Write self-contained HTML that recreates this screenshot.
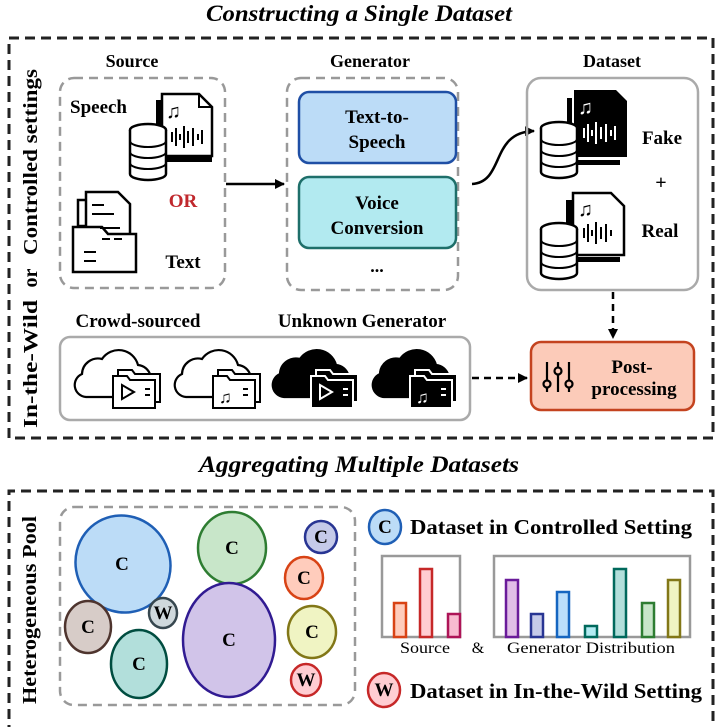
<!DOCTYPE html>
<html><head><meta charset="utf-8"><style>
html,body{margin:0;padding:0;background:#fff;}
svg{display:block;font-family:"Liberation Serif",serif;}
.b{font-weight:bold;}
</style></head><body>
<svg width="718" height="727" viewBox="0 0 718 727" xmlns="http://www.w3.org/2000/svg">
<defs>
<marker id="ah" markerWidth="10" markerHeight="10" refX="9" refY="5" orient="auto" markerUnits="userSpaceOnUse"><path d="M0,0 L10,5 L0,10 Z" fill="#000"/></marker>
<g id="cloud"><path d="M14,50 A12,12 0 0 1 10,27 A16,16 0 0 1 30,12 A20,20 0 0 1 66,18 A14,14 0 0 1 72,44 L72,50 Z"/></g>
<g id="db">
<ellipse cx="0" cy="0" rx="18" ry="6" fill="#fff" stroke="#000" stroke-width="2.5"/>
<path d="M-18,0 V44 A18,6 0 0 0 18,44 V0" fill="#fff" stroke="#000" stroke-width="2.5"/>
<path d="M-18,11 A18,6 0 0 0 18,11 M-18,22 A18,6 0 0 0 18,22 M-18,33 A18,6 0 0 0 18,33" fill="none" stroke="#000" stroke-width="2"/>
</g>
</defs>

<!-- titles -->
<text x="359" y="21" text-anchor="middle" font-size="23" font-style="italic" class="b" textLength="306" lengthAdjust="spacingAndGlyphs">Constructing a Single Dataset</text>
<text x="359" y="472" text-anchor="middle" font-size="23" font-style="italic" class="b" textLength="320" lengthAdjust="spacingAndGlyphs">Aggregating Multiple Datasets</text>

<!-- top frame -->
<rect x="9" y="38" width="704" height="400" fill="none" stroke="#222" stroke-width="3" stroke-dasharray="10,6"/>
<g font-size="20" class="b">
<text transform="translate(37,162) rotate(-90)" text-anchor="middle" textLength="186" lengthAdjust="spacingAndGlyphs">Controlled settings</text>
<text transform="translate(37,278) rotate(-90)" text-anchor="middle">or</text>
<text transform="translate(37,364) rotate(-90)" text-anchor="middle" textLength="128" lengthAdjust="spacingAndGlyphs">In-the-Wild</text>
</g>

<!-- headers -->
<text x="132" y="67" text-anchor="middle" font-size="18" class="b">Source</text>
<text x="370" y="67" text-anchor="middle" font-size="18" class="b">Generator</text>
<text x="612" y="67" text-anchor="middle" font-size="18" class="b">Dataset</text>

<!-- Source box -->
<rect x="60" y="78" width="165" height="210" rx="14" fill="none" stroke="#999" stroke-width="2.5" stroke-dasharray="9,6"/>
<text x="70" y="113" font-size="19" class="b">Speech</text>
<g>
<path d="M156,100 H162 V156 H212 V162 H156 Z" fill="#000"/>
<path d="M162,94 H199 L212,107 V156 H162 Z" fill="#fff" stroke="#000" stroke-width="2.5"/>
<path d="M199,94 V107 H212" fill="none" stroke="#000" stroke-width="2"/>
<text x="166" y="118" font-size="20">♫</text>
<path d="M172,132 v10 M176,128 v18 M180,134 v6 M184,126 v22 M188,131 v12 M193,128 v18 M198,134 v6 M202,130 v14" stroke="#000" stroke-width="2"/>
<use href="#db" x="148" y="130"/>
</g>
<text x="183" y="207" text-anchor="middle" font-size="19" class="b" fill="#c0282d">OR</text>
<g fill="#fff" stroke="#000" stroke-width="2.5">
<path d="M78,200 L112,200 L116,205 L116,226 L78,226 Z"/>
<path d="M86,192 L118,192 L130,204 L130,235 L86,235 Z"/>
<path d="M73,227 H102 L108,234 H136 V272 H73 Z"/>
</g>
<path d="M92,205 h12 M92,214 h22 M100,228 h20 M84,252 h12 M84,261 h12 M102,239 h8 M114,239 h8" stroke="#000" stroke-width="2"/>
<text x="183" y="268" text-anchor="middle" font-size="19" class="b">Text</text>

<line x1="226" y1="184" x2="284" y2="184" stroke="#000" stroke-width="2.5" marker-end="url(#ah)"/>

<!-- Generator -->
<rect x="287" y="78" width="171" height="212" rx="14" fill="none" stroke="#999" stroke-width="2.5" stroke-dasharray="9,6"/>
<rect x="299" y="92" width="157" height="71" rx="10" fill="#bcdcf7" stroke="#1f4fa5" stroke-width="2.5"/>
<text x="377" y="123" text-anchor="middle" font-size="19" class="b">Text-to-</text>
<text x="377" y="148" text-anchor="middle" font-size="19" class="b">Speech</text>
<rect x="299" y="177" width="157" height="71" rx="10" fill="#b2eaf0" stroke="#1e6f6a" stroke-width="2.5"/>
<text x="377" y="209" text-anchor="middle" font-size="19" class="b">Voice</text>
<text x="377" y="234" text-anchor="middle" font-size="19" class="b">Conversion</text>
<text x="377" y="272" text-anchor="middle" font-size="18" class="b">...</text>

<path d="M472,184 C505,182 490,132 534,131" fill="none" stroke="#000" stroke-width="2.5" marker-end="url(#ah)"/>

<!-- Dataset -->
<rect x="527" y="78" width="171" height="212" rx="14" fill="none" stroke="#aaa" stroke-width="2.5"/>
<g>
<path d="M567,98 H572 V160 H620 V165 H567 Z" fill="#000"/>
<path d="M574,90 H616 L627,101 V157 H574 Z" fill="#000"/>
<text x="578" y="114" font-size="20" fill="#fff">♫</text>
<path d="M584,128 v10 M588,124 v18 M592,130 v6 M596,122 v22 M601,127 v12 M606,124 v18 M611,130 v6 M615,126 v14" stroke="#fff" stroke-width="2"/>
<use href="#db" x="559" y="128"/>
</g>
<text x="662" y="144" text-anchor="middle" font-size="19" class="b">Fake</text>
<text x="661" y="189" text-anchor="middle" font-size="20" class="b">+</text>
<g>
<path d="M566,200 H572 V257 H620 V262 H566 Z" fill="#000"/>
<path d="M573,193 H611 L624,206 V255 H573 Z" fill="#fff" stroke="#000" stroke-width="2.5"/>
<text x="578" y="216" font-size="20">♫</text>
<path d="M584,228 v10 M588,224 v18 M592,230 v6 M596,222 v22 M601,227 v12 M606,224 v18 M611,230 v6" stroke="#000" stroke-width="2"/>
<use href="#db" x="559" y="229"/>
</g>
<text x="660" y="237" text-anchor="middle" font-size="19" class="b">Real</text>

<line x1="613" y1="292" x2="613" y2="338" stroke="#000" stroke-width="2.5" stroke-dasharray="7,5" marker-end="url(#ah)"/>

<!-- wild -->
<text x="138" y="327" text-anchor="middle" font-size="19" class="b">Crowd-sourced</text>
<text x="362" y="327" text-anchor="middle" font-size="19" class="b">Unknown Generator</text>
<rect x="60" y="337" width="410" height="83" rx="10" fill="none" stroke="#aaa" stroke-width="2.5"/>
<g stroke="#000" stroke-width="2.2">
<use href="#cloud" x="72" y="347" fill="#fff"/>
<use href="#cloud" x="172" y="347" fill="#fff"/>
<use href="#cloud" x="270" y="347" fill="#000"/>
<use href="#cloud" x="370" y="347" fill="#000"/>
</g>
<g stroke-width="2">
<g fill="#fff" stroke="#000"><path d="M118,370 h14 l3,4 h25 v28 h-42 z"/><path d="M113,376 h14 l3,4 h25 v28 h-42 z"/></g>
<path d="M122,385 v14 l12,-7 z" fill="none" stroke="#000"/><path d="M145,389 h5 M145,395 h5" stroke="#000"/>
<g fill="#fff" stroke="#000"><path d="M218,370 h14 l3,4 h25 v28 h-42 z"/><path d="M213,376 h14 l3,4 h25 v28 h-42 z"/></g>
<text x="219" y="403" font-size="17">♫</text><path d="M243,389 h5 M243,395 h5" stroke="#000"/>
<g fill="#000" stroke="#fff"><path d="M316,370 h14 l3,4 h25 v28 h-42 z"/><path d="M311,376 h14 l3,4 h25 v28 h-42 z"/></g>
<path d="M320,385 v14 l12,-7 z" fill="none" stroke="#fff"/><path d="M343,389 h5 M343,395 h5" stroke="#fff"/>
<g fill="#000" stroke="#fff"><path d="M415,370 h14 l3,4 h25 v28 h-42 z"/><path d="M410,376 h14 l3,4 h25 v28 h-42 z"/></g>
<text x="416" y="403" font-size="17" fill="#fff">♫</text><path d="M441,389 h5 M441,395 h5" stroke="#fff"/>
</g>

<line x1="472" y1="378" x2="527" y2="378" stroke="#000" stroke-width="2.5" stroke-dasharray="7,5" marker-end="url(#ah)"/>

<rect x="531" y="342" width="163" height="68" rx="10" fill="#fccbb9" stroke="#c4431f" stroke-width="2.5"/>
<g stroke="#000" stroke-width="2.2" fill="#fccbb9">
<line x1="547" y1="362" x2="547" y2="392"/><line x1="558" y1="362" x2="558" y2="392"/><line x1="569" y1="362" x2="569" y2="392"/>
<circle cx="547" cy="384" r="3.5"/><circle cx="558" cy="371" r="3.5"/><circle cx="569" cy="384" r="3.5"/>
</g>
<text x="632" y="373" text-anchor="middle" font-size="19" class="b">Post-</text>
<text x="634" y="395" text-anchor="middle" font-size="19" class="b">processing</text>

<!-- bottom frame -->
<path d="M9,735 V491 H713 V735" fill="none" stroke="#222" stroke-width="3" stroke-dasharray="10,6"/>
<text transform="translate(36,610) rotate(-90)" text-anchor="middle" font-size="20" class="b" textLength="188" lengthAdjust="spacingAndGlyphs">Heterogeneous Pool</text>
<rect x="60" y="507" width="295" height="198" rx="14" fill="none" stroke="#999" stroke-width="2.5" stroke-dasharray="9,6"/>

<g stroke-width="2.5" font-size="19" text-anchor="middle" class="b">
<ellipse cx="123" cy="564" rx="47" ry="49" transform="rotate(-30 123 564)" fill="#bcdcf7" stroke="#1f5fb5"/><text x="122" y="570" stroke="none">C</text>
<ellipse cx="232" cy="548" rx="34" ry="36" fill="#c8e6c9" stroke="#2e7d32"/><text x="232" y="554" stroke="none">C</text>
<ellipse cx="321" cy="537" rx="16" ry="16" fill="#c5cae9" stroke="#283593"/><text x="321" y="543" stroke="none">C</text>
<ellipse cx="304" cy="578" rx="19" ry="21" fill="#ffccbc" stroke="#d84315"/><text x="304" y="584" stroke="none">C</text>
<ellipse cx="88" cy="627" rx="23" ry="26" fill="#d7ccc8" stroke="#4e342e"/><text x="88" y="633" stroke="none">C</text>
<ellipse cx="163" cy="613" rx="14" ry="15" fill="#cfd8dc" stroke="#37474f"/><text x="163" y="619" stroke="none">W</text>
<ellipse cx="229" cy="640" rx="46" ry="57" fill="#d1c4e9" stroke="#311b92"/><text x="229" y="646" stroke="none">C</text>
<ellipse cx="312" cy="632" rx="24" ry="26" fill="#f0f4c3" stroke="#827717"/><text x="312" y="638" stroke="none">C</text>
<ellipse cx="139" cy="664" rx="28" ry="34" fill="#b2dfdb" stroke="#004d40"/><text x="139" y="670" stroke="none">C</text>
<ellipse cx="306" cy="680" rx="15" ry="16" fill="#ffcdd2" stroke="#c62828"/><text x="306" y="686" stroke="none">W</text>
<ellipse cx="385" cy="527" rx="16" ry="17" fill="#bcdcf7" stroke="#1f5fb5"/><text x="385" y="533" stroke="none">C</text>
<ellipse cx="384" cy="690" rx="16" ry="17" fill="#ffcdd2" stroke="#c62828"/><text x="384" y="696" stroke="none">W</text>
</g>
<text x="410" y="534" font-size="21" class="b" textLength="282" lengthAdjust="spacingAndGlyphs">Dataset in Controlled Setting</text>
<text x="410" y="698" font-size="21" class="b" textLength="292" lengthAdjust="spacingAndGlyphs">Dataset in In-the-Wild Setting</text>

<rect x="382" y="556" width="78" height="81" fill="none" stroke="#999" stroke-width="2.5"/>
<rect x="494" y="556" width="196" height="81" fill="none" stroke="#999" stroke-width="2.5"/>
<g stroke-width="2.5">
<rect x="394" y="603" width="12" height="34" fill="#ffccbc" stroke="#d84315"/>
<rect x="420" y="569" width="12" height="68" fill="#ffcdd2" stroke="#c62828"/>
<rect x="448" y="614" width="12" height="23" fill="#f8bbd0" stroke="#ad1457"/>
<rect x="506" y="580" width="12" height="57" fill="#e1bee7" stroke="#6a1b9a"/>
<rect x="531" y="614" width="12" height="23" fill="#c5cae9" stroke="#283593"/>
<rect x="557" y="592" width="12" height="45" fill="#bbdefb" stroke="#1565c0"/>
<rect x="585" y="626" width="12" height="11" fill="#b2ebf2" stroke="#00695c"/>
<rect x="614" y="569" width="12" height="68" fill="#b2dfdb" stroke="#00695c"/>
<rect x="642" y="603" width="12" height="34" fill="#c8e6c9" stroke="#2e7d32"/>
<rect x="668" y="580" width="12" height="57" fill="#f0f4c3" stroke="#827717"/>
</g>
<text x="425" y="653" text-anchor="middle" font-size="16" textLength="50" lengthAdjust="spacingAndGlyphs">Source</text>
<text x="478" y="653" text-anchor="middle" font-size="16">&amp;</text>
<text x="591" y="653" text-anchor="middle" font-size="16" textLength="168" lengthAdjust="spacingAndGlyphs">Generator Distribution</text>
</svg>
</body></html>
